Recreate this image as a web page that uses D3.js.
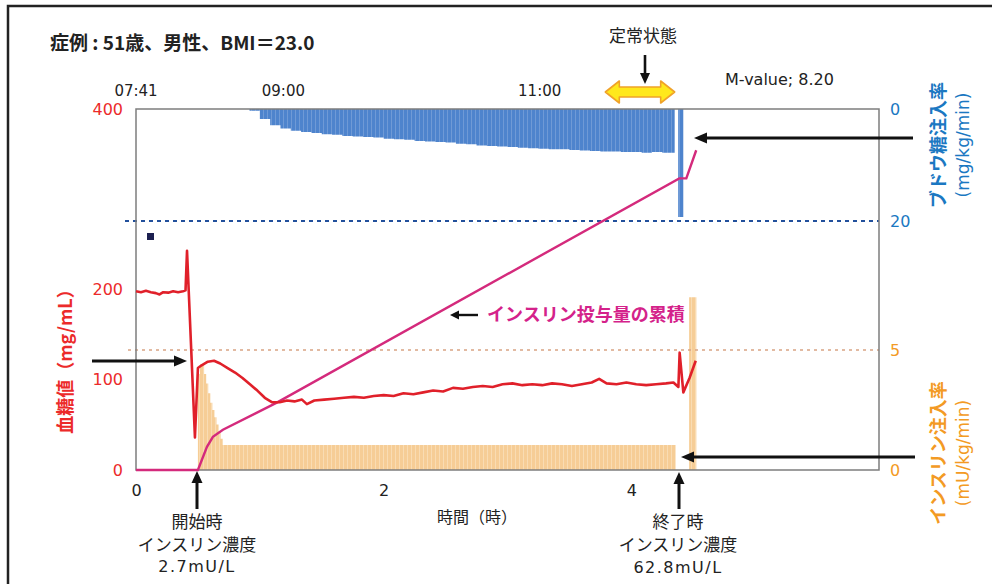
<!DOCTYPE html>
<html><head><meta charset="utf-8">
<script src="https://cdn.jsdelivr.net/npm/d3@7"></script>
<style>
body{margin:0;background:#fff;}
svg{display:block;}
text{font-family:"DejaVu Sans","Noto Sans CJK JP",sans-serif;}
.jp{font-family:"Noto Sans CJK JP","DejaVu Sans",sans-serif;}
</style></head><body>
<svg id="c" width="992" height="584"></svg>
<script>
// ---------- data ----------
const hourTicks = [0, 2, 4];
const timeLabels = ["07:41", "09:00", "11:00"];
const timeLabelHours = [0, 1.19, 3.26];
const glucoseTicks = [0, 100, 200, 400];
const girTicks = [0, 20];
const insulinTicks = [0, 5];
const steadyState = [3.79, 4.35];

// blood glucose (mg/mL) vs hours
const glucoseHour = [0.00,0.04,0.08,0.12,0.16,0.19,0.22,0.26,0.30,0.34,0.38,0.40,0.412,0.476,0.50,0.53,0.58,0.63,0.68,0.74,0.80,0.86,0.92,0.98,1.04,1.10,1.16,1.22,1.28,1.34,1.38,1.44,1.52,1.60,1.68,1.76,1.84,1.92,2.00,2.08,2.16,2.24,2.32,2.40,2.48,2.56,2.64,2.72,2.80,2.88,2.96,3.04,3.12,3.20,3.28,3.36,3.44,3.52,3.60,3.68,3.74,3.80,3.88,3.96,4.04,4.12,4.20,4.28,4.34,4.38,4.39,4.42,4.47,4.52];
const glucoseValue = [198,197,198.5,197,196,194.5,197,196.5,198,197,198,199,243,36,113,116,120,121,118,113,108,102,95,88,80,75,75,77,76,78,73,77,78,79,80,81,80,82,83,82,85,84,86,88,87,91,90,92,93,92,95,96,94,95,94,96,95,93,95,97,101,96,95,97,95,94,95,96,97,92,130,86,102,121];

// cumulative insulin dose (relative units) vs hours
const cumHour = [0, 0.5, 0.573, 0.621, 0.702, 1.137, 4.387, 4.444, 4.524];
const cumValue = [0, 0, 23, 33, 40, 67, 290, 290, 318];

// glucose infusion rate (mg/kg/min), step starts in minutes
const girMin = [55,60,65,70,75,80,85,90,95,100,105,110,115,120,125,130,135,140,145,150,155,160,165,170,175,180,185,190,195,200,205,210,215,220,225,230,235,240,245,250,255,261,262.7,265.2];
const girRate = [0.3,1.8,2.9,3.5,3.9,4.1,4.3,4.5,4.6,4.8,4.9,5.0,5.1,5.3,5.4,5.5,5.7,5.8,5.9,6.0,6.2,6.3,6.5,6.6,6.7,6.8,6.9,7.0,7.1,7.2,7.2,7.3,7.4,7.5,7.6,7.6,7.7,7.7,7.8,7.7,7.8,0,19.3,0];

// insulin infusion rate (mU/kg/min), step starts in minutes
const insulinMin = [30,31,32,33,34,35,36,37,38,39,40,41,42,261.5,268,271.5];
const insulinRate = [4.0,4.4,4.4,4.0,3.6,3.2,2.8,2.5,2.2,1.9,1.6,1.3,1.04,0,7.2,0];

// ---------- scales ----------
const svg = d3.select("#c");
const L = 136, R = 879, T = 109, B = 470;
const x = d3.scaleLinear().domain([0, 6]).range([L, R]);
const yGlu = d3.scaleLinear().domain([0, 400]).range([B, T]);
const yGir = d3.scaleLinear().domain([0, 20]).range([T, 221]);
const yIns = d3.scaleLinear().domain([0, 5]).range([B, 350]);
const yCum = d3.scaleLinear().domain([0, 360]).range([B, 108]);

// patterns
const defs = svg.append("defs");
const bp = defs.append("pattern").attr("id","bluePat").attr("patternUnits","userSpaceOnUse").attr("width",4).attr("height",10);
bp.append("rect").attr("width",4).attr("height",10).attr("fill","#4e84cd");
bp.append("rect").attr("x",3).attr("width",1).attr("height",10).attr("fill","#6f9ad6");
const op = defs.append("pattern").attr("id","orPat").attr("patternUnits","userSpaceOnUse").attr("width",4).attr("height",10);
op.append("rect").attr("width",4).attr("height",10).attr("fill","#f6cd96");
op.append("rect").attr("x",3).attr("width",1).attr("height",10).attr("fill","#f9dcb3");

// outer frame (left + top)
svg.append("path").attr("d","M8,584 L8,6 L992,6").attr("fill","none").attr("stroke","#222").attr("stroke-width",2.5);

// ---------- infusion areas ----------
const girData = girMin.map((m,i)=>({h:m/60, v:girRate[i]}));
svg.append("path").datum(girData)
  .attr("d", d3.area().curve(d3.curveStepAfter).x(d=>x(d.h)).y0(yGir(0)).y1(d=>yGir(d.v)))
  .attr("fill","url(#bluePat)");

const insData = insulinMin.map((m,i)=>({h:m/60, v:insulinRate[i]}));
svg.append("path").datum(insData)
  .attr("d", d3.area().curve(d3.curveStepAfter).x(d=>x(d.h)).y0(yIns(0)).y1(d=>yIns(d.v)))
  .attr("fill","url(#orPat)");

// reference lines
svg.append("line").attr("x1",125).attr("x2",R).attr("y1",yGir(20)).attr("y2",yGir(20))
  .attr("stroke","#22509c").attr("stroke-width",2.2).attr("stroke-dasharray","4,4");
svg.append("line").attr("x1",128).attr("x2",R).attr("y1",yIns(5)).attr("y2",yIns(5))
  .attr("stroke","#d9a484").attr("stroke-width",1.5).attr("stroke-dasharray","3,4");

// plot frame
svg.append("rect").attr("x",L).attr("y",T).attr("width",R-L).attr("height",B-T)
  .attr("fill","none").attr("stroke","#7d7d7d").attr("stroke-width",1.5);

// small marker square
svg.append("rect").attr("x",147).attr("y",233).attr("width",7).attr("height",7).attr("fill","#1c2050");

// cumulative insulin line
const cumData = cumHour.map((h,i)=>({h, v:cumValue[i]}));
svg.append("path").datum(cumData)
  .attr("d", d3.line().x(d=>x(d.h)).y(d=>yCum(d.v)))
  .attr("fill","none").attr("stroke","#d42a7c").attr("stroke-width",2.4);

// glucose line
const gluData = glucoseHour.map((h,i)=>({h, v:glucoseValue[i]}));
svg.append("path").datum(gluData)
  .attr("d", d3.line().x(d=>x(d.h)).y(d=>yGlu(d.v)))
  .attr("fill","none").attr("stroke","#e0202a").attr("stroke-width",2.6).attr("stroke-linejoin","round");

// ---------- axes ----------
function style(g, color, size){
  g.select(".domain").remove();
  g.selectAll("text").attr("fill",color).style("font-size",size+"px").style("font-family","DejaVu Sans");
}
const fmt = d3.format("d");
svg.append("g").attr("transform","translate(123,0)")
  .call(d3.axisLeft(yGlu).tickValues(glucoseTicks).tickFormat(fmt).tickSize(0).tickPadding(0))
  .call(g=>style(g,"#ec2a2a",16));
svg.append("g").attr("transform","translate(890,0)")
  .call(d3.axisRight(yGir).tickValues(girTicks).tickFormat(fmt).tickSize(0).tickPadding(0))
  .call(g=>style(g,"#1b78c2",16));
svg.append("g").attr("transform","translate(890,0)")
  .call(d3.axisRight(yIns).tickValues(insulinTicks).tickFormat(fmt).tickSize(0).tickPadding(0))
  .call(g=>style(g,"#f39a24",16));
svg.append("g").attr("transform","translate(0,485)")
  .call(d3.axisBottom(x).tickValues(hourTicks).tickFormat(fmt).tickSize(0).tickPadding(0))
  .call(g=>style(g,"#222",16));

// top time labels
svg.append("g").selectAll("text").data(timeLabels).join("text")
  .attr("x",(d,i)=>x(timeLabelHours[i])).attr("y",96).attr("text-anchor","middle")
  .attr("fill","#222").style("font-size","15px").text(d=>d);

// ---------- annotations ----------
function txt(t, X, Y, opt={}){
  return svg.append("text").attr("x",X).attr("y",Y)
    .attr("text-anchor",opt.anchor||"start").attr("fill",opt.color||"#222")
    .attr("class",opt.cls||"").style("font-size",(opt.size||16)+"px")
    .style("font-weight",opt.weight||"normal").style("letter-spacing",(opt.ls||0)+"px").text(t);
}
function arrow(x1,y1,x2,y2,w,hl,hw,color){
  color = color||"#111";
  const a = Math.atan2(y2-y1,x2-x1);
  const bx = x2 - hl*Math.cos(a), by = y2 - hl*Math.sin(a);
  svg.append("line").attr("x1",x1).attr("y1",y1).attr("x2",bx).attr("y2",by).attr("stroke",color).attr("stroke-width",w);
  const px = -Math.sin(a)*hw/2, py = Math.cos(a)*hw/2;
  svg.append("path").attr("d",`M${x2},${y2}L${bx+px},${by+py}L${bx-px},${by-py}Z`).attr("fill",color);
}

txt("症例 : 51歳、男性、BMI＝23.0", 50, 50, {cls:"jp", size:19, weight:"bold", color:"#222"});
txt("定常状態", 643, 42, {cls:"jp", size:17, anchor:"middle"});
arrow(645,55,645,84,2.6,11,10);
txt("M-value; 8.20", 725, 85, {size:16});

// yellow double arrow over steady state
{
  const x0 = x(steadyState[0]), x1 = x(steadyState[1]), cy = 92, hl = 14;
  svg.append("path").attr("d",
    `M${x0},${cy}L${x0+hl},${cy-11}L${x0+hl},${cy-5}L${x1-hl},${cy-5}L${x1-hl},${cy-11}L${x1},${cy}L${x1-hl},${cy+11}L${x1-hl},${cy+5}L${x0+hl},${cy+5}L${x0+hl},${cy+11}Z`)
    .attr("fill","#ffe81c").attr("stroke","#f0a229").attr("stroke-width",1.6).attr("stroke-linejoin","round");
}

// axis titles
txt("血糖値（mg/mL）", 0, 0, {cls:"jp", size:18, weight:"bold", color:"#ec2a2a", anchor:"middle"})
  .attr("transform","translate(72,357) rotate(-90)");
txt("ブドウ糖注入率", 0, 0, {cls:"jp", size:18, weight:"bold", color:"#1b78c2", anchor:"middle"})
  .attr("transform","translate(945,145) rotate(-90)");
txt("(mg/kg/min)", 0, 0, {size:17, color:"#1b78c2", anchor:"middle"})
  .attr("transform","translate(969,145) rotate(-90)");
txt("インスリン注入率", 0, 0, {cls:"jp", size:18, weight:"bold", color:"#f39a24", anchor:"middle"})
  .attr("transform","translate(945,453) rotate(-90)");
txt("(mU/kg/min)", 0, 0, {size:17, color:"#f39a24", anchor:"middle"})
  .attr("transform","translate(969,453) rotate(-90)");

txt("時間（時）", 477, 523, {cls:"jp", size:16, anchor:"middle"});

// cumulative label
txt("インスリン投与量の累積", 487, 321, {cls:"jp", size:18, weight:"bold", color:"#d4228a"});
arrow(478,315,450,315,2.4,9,9);

// side arrows
arrow(92,361,187,361,3,13,11);
arrow(913,138,694,138,3,13,11);
arrow(915,457,681,457,3,13,11);

// bottom arrows and notes
arrow(197,509,197,471,3,12,11);
arrow(679,509,679,472,3,12,11);
txt("開始時", 197, 528, {cls:"jp", size:17, anchor:"middle"});
txt("インスリン濃度", 197, 551, {cls:"jp", size:17, anchor:"middle"});
txt("2.7mU/L", 197, 572, {size:16, anchor:"middle", ls:1.5});
txt("終了時", 678, 528, {cls:"jp", size:17, anchor:"middle"});
txt("インスリン濃度", 678, 551, {cls:"jp", size:17, anchor:"middle"});
txt("62.8mU/L", 678, 573, {size:16, anchor:"middle", ls:1.5});
</script>
</body></html>
